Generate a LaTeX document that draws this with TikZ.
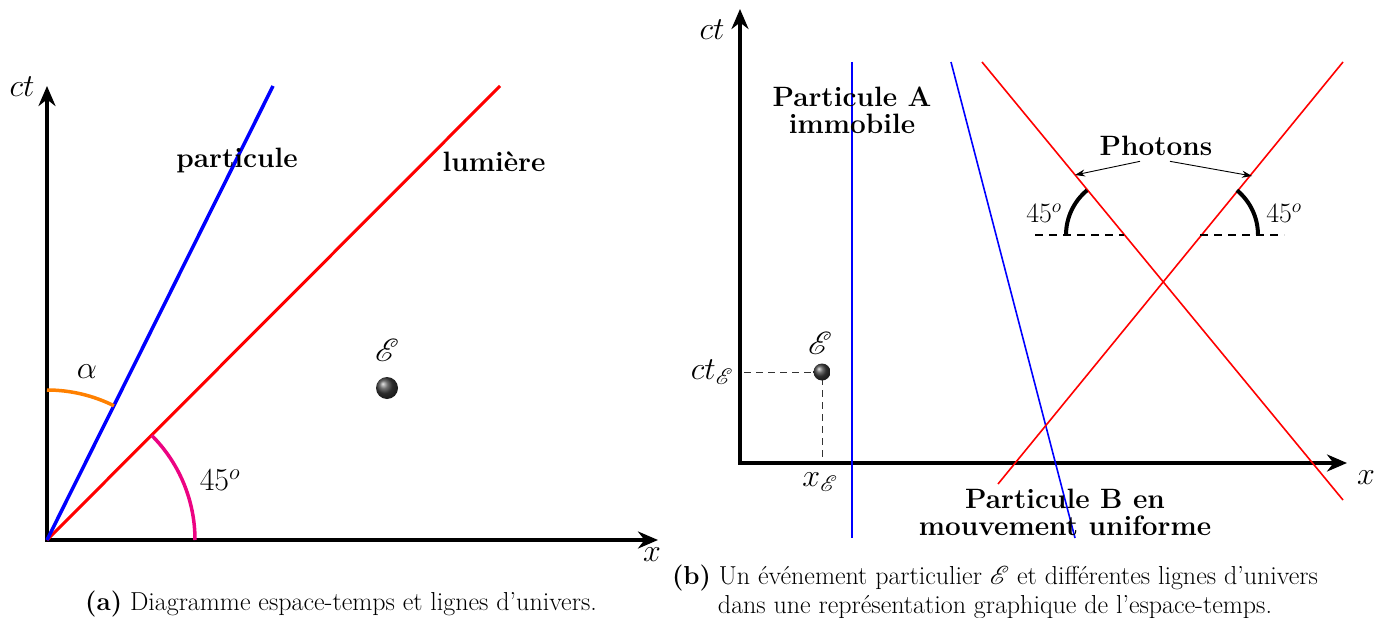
\RequirePackage{fix-cm}
\documentclass[tikz,border=0pt]{standalone}
\usepackage{mathrsfs}
\DeclareFontFamily{U}{rsfs}{\skewchar\font127 }
\DeclareFontShape{U}{rsfs}{m}{n}{<-6>rsfs5 <6-8>rsfs7 <8->rsfs10}{}
\usetikzlibrary{arrows.meta}

\tikzset{
  axis/.style={line width=4pt,line join=miter,{Stealth[length=20pt,width=17pt]}-{Stealth[length=20pt,width=17pt]}},
  thickline/.style={line width=3.5pt},
  thinline/.style={line width=1.6pt},
  bold/.style={font=\fontsize{28}{27}\selectfont\bfseries,align=center},
  mlabel/.style={font=\fontsize{32}{34}\selectfont},
  slabel/.style={font=\fontsize{28}{30}\selectfont},
  caption/.style={font=\fontsize{26}{29}\selectfont,align=center},
  guide/.style={dashed,line width=1pt,black!80,dash pattern=on 7pt off 5pt},
}

\begin{document}
\begin{tikzpicture}[x=1pt,y=-1pt]
  \useasboundingbox (0,0) rectangle (1387,618);

  % (a) diagramme espace-temps
  \coordinate (O1) at (47,540);
  \coordinate (T1) at (47,86);
  \coordinate (X1) at (658,540);
  \coordinate (P1) at (273,86);
  \coordinate (L1) at (500,86);
  \draw[axis] (T1) -- (O1) -- (X1);
  \draw[thickline,red,line width=3pt] (O1) -- (L1);
  \draw[thickline,blue] (O1) -- (P1);
  \draw[line width=3.5pt,orange] (47,390) arc (-90:-63.5:150);
  \draw[line width=3.5pt,magenta!90!red] (195,540) arc (0:-45:148);
  \node[mlabel] (ct1) at (22,87) {$ct$};
  \node[mlabel] (x1) at (652,555) {$x$};
  \node[mlabel] (alpha) at (87,372) {$\alpha$};
  \node[mlabel] (deg1) at (220,480) {$45^o$};
  \node[bold] (particule) at (237,160) {particule};
  \node[bold] (lumiere) at (494,162) {lumière};
  \node[mlabel] (E1) at (387,350) {$\mathscr{E}$};
  \shade[ball color=black!75] (387,388) circle (11);
  \node[caption] (capA) at (341,604) {\textbf{(a)} Diagramme espace-temps et lignes d’univers.};

  % (b) evenement et lignes d'univers
  \coordinate (O2) at (740,463);
  \coordinate (T2) at (740,9);
  \coordinate (X2) at (1347,463);
  \coordinate (A1) at (852,62);
  \coordinate (A2) at (852,538);
  \coordinate (B1) at (951,62);
  \coordinate (B2) at (1075,538);
  \coordinate (R1a) at (982,62);
  \coordinate (R1b) at (1343,500);
  \coordinate (R2a) at (1343,62);
  \coordinate (R2b) at (998,484);
  \draw[axis] (T2) -- (O2) -- (X2);
  \draw[thinline,blue] (A1) -- (A2);
  \draw[thinline,blue] (B1) -- (B2);
  \draw[thinline,red] (R1a) -- (R1b);
  \draw[thinline,red] (R2a) -- (R2b);
  \node[mlabel] (ct2) at (712,30) {$ct$};
  \node[mlabel] (x2) at (1366,478) {$x$};
  \node[bold] (partA) at (852,110) {Particule A\\immobile};
  \node[bold] (partB) at (1065,512) {Particule B en\\mouvement uniforme};

  % photons
  \coordinate (C1) at (1124,235);
  \coordinate (C2) at (1200,235);
  \draw[dashed,line width=1.6pt,dash pattern=on 8pt off 6pt] (1035,235) -- (C1);
  \draw[dashed,line width=1.6pt,dash pattern=on 8pt off 6pt] (C2) -- (1284,235);
  \draw[line width=4pt] (1066,235) arc (-180:-129.5:58);
  \draw[line width=4pt] (1258,235) arc (0:-50.5:58);
  \node[slabel] (deg2) at (1044,213) {$45^o$};
  \node[slabel] (deg3) at (1284,213) {$45^o$};
  \node[bold] (photons) at (1156,146) {Photons};
  \coordinate (PhL) at (1075,175);
  \coordinate (PhR) at (1252,176);
  \draw[-{Stealth[length=10pt,width=7pt]},line width=0.9pt] ([xshift=-16pt,yshift=-2pt]photons.south) -- (PhL);
  \draw[-{Stealth[length=10pt,width=7pt]},line width=0.9pt] ([xshift=14pt,yshift=-2pt]photons.south) -- (PhR);

  % evenement
  \coordinate (Ev) at (822,372);
  \draw[guide] (744,372) -- (Ev) -- (822,461);
  \shade[ball color=black!75] (Ev) circle (8.5);
  \node[mlabel] (E2) at (820,343) {$\mathscr{E}$};
  \node[mlabel] (ctE) at (712,372) {$ct_{\mathscr{E}}$};
  \node[mlabel] (xE) at (820,482) {$x_{\mathscr{E}}$};
  \node[caption] (capB) at (995,592) {\textbf{(b)} Un événement particulier $\mathscr{E}$ et différentes lignes d’univers\\dans une représentation graphique de l’espace-temps.};
\end{tikzpicture}
\end{document}
